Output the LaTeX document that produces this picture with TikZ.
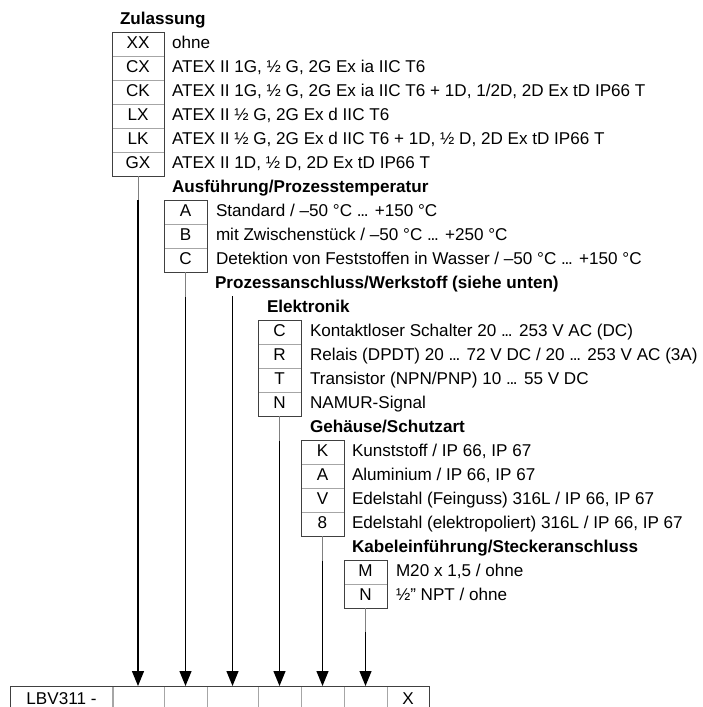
\documentclass[tikz,border=0pt]{standalone}
\usepackage{fontspec}
\setmainfont{Liberation Sans}
\usetikzlibrary{arrows.meta}
\newcommand\dotsx{.\kern-1.3pt.\kern-1.3pt.}
\begin{document}
\begin{tikzpicture}[x=1pt,y=-1pt,
  every node/.style={font=\fontsize{17.1}{20}\selectfont, inner sep=0pt, outer sep=0pt},
  cell/.style={draw=black!35, line width=0.8pt, minimum height=24pt, text height=11pt, text depth=2pt},
  bcell/.style={draw=black!35, line width=0.8pt, minimum height=26pt, text height=11pt, text depth=0pt},
  desc/.style={anchor=west, text height=11pt, text depth=2pt},
  title/.style={desc, font=\fontsize{17.1}{20}\selectfont\bfseries},
  outer/.style={draw=black!75, line width=0.9pt},
  conngray/.style={draw=black!50, line width=0.9pt},
  conn/.style={draw=black, line width=1.2pt, -{Triangle[width=12pt,length=15pt]}}
]
\useasboundingbox (0,0) rectangle (702,707);

% ---------- Zulassung
\node[title] (tz) at (120,20) {Zulassung};
\node[cell, minimum width=52pt] (z1) at (138,44) {XX};
\node[cell, minimum width=52pt] (z2) at (138,68) {CX};
\node[cell, minimum width=52pt] (z3) at (138,92) {CK};
\node[cell, minimum width=52pt] (z4) at (138,116) {LX};
\node[cell, minimum width=52pt] (z5) at (138,140) {LK};
\node[cell, minimum width=52pt] (z6) at (138,164) {GX};
\draw[outer] (z1.north west) rectangle (z6.south east);
\node[desc] (dz1) at (172,44) {ohne};
\node[desc] (dz2) at (172,68) {ATEX II 1G, ½ G, 2G Ex ia IIC T6};
\node[desc] (dz3) at (172,92) {ATEX II 1G, ½ G, 2G Ex ia IIC T6 + 1D, 1/2D, 2D Ex tD IP66 T};
\node[desc] (dz4) at (172,116) {ATEX II ½ G, 2G Ex d IIC T6};
\node[desc] (dz5) at (172,140) {ATEX II ½ G, 2G Ex d IIC T6 + 1D, ½ D, 2D Ex tD IP66 T};
\node[desc] (dz6) at (172,164) {ATEX II 1D, ½ D, 2D Ex tD IP66 T};

% ---------- Ausfuehrung
\node[title] (ta) at (172,188) {Ausführung/Prozesstemperatur};
\node[cell, minimum width=43pt] (a1) at (185.5,212) {A};
\node[cell, minimum width=43pt] (a2) at (185.5,236) {B};
\node[cell, minimum width=43pt] (a3) at (185.5,260) {C};
\draw[outer] (a1.north west) rectangle (a3.south east);
\node[desc] (da1) at (216,212) {Standard / –50 °C \dotsx{} +150 °C};
\node[desc] (da2) at (216,236) {mit Zwischenstück / –50 °C \dotsx{} +250 °C};
\node[desc] (da3) at (216,260) {Detektion von Feststoffen in Wasser / –50 °C \dotsx{} +150 °C};

% ---------- Prozessanschluss
\node[title] (tp) at (215,284) {Prozessanschluss/Werkstoff (siehe unten)};

% ---------- Elektronik
\node[title] (te) at (267,308) {Elektronik};
\node[cell, minimum width=43pt] (e1) at (279.5,332) {C};
\node[cell, minimum width=43pt] (e2) at (279.5,356) {R};
\node[cell, minimum width=43pt] (e3) at (279.5,380) {T};
\node[cell, minimum width=43pt] (e4) at (279.5,404) {N};
\draw[outer] (e1.north west) rectangle (e4.south east);
\node[desc] (de1) at (310,332) {Kontaktloser Schalter 20 \dotsx{} 253 V AC (DC)};
\node[desc] (de2) at (310,356) {Relais (DPDT) 20 \dotsx{} 72 V DC / 20 \dotsx{} 253 V AC (3A)};
\node[desc] (de3) at (310,380) {Transistor (NPN/PNP) 10 \dotsx{} 55 V DC};
\node[desc] (de4) at (310,404) {NAMUR-Signal};

% ---------- Gehaeuse
\node[title] (tg) at (310,428) {Gehäuse/Schutzart};
\node[cell, minimum width=43pt] (g1) at (322.5,452) {K};
\node[cell, minimum width=43pt] (g2) at (322.5,476) {A};
\node[cell, minimum width=43pt] (g3) at (322.5,500) {V};
\node[cell, minimum width=43pt] (g4) at (322.5,524) {8};
\draw[outer] (g1.north west) rectangle (g4.south east);
\node[desc] (dg1) at (352,452) {Kunststoff / IP 66, IP 67};
\node[desc] (dg2) at (352,476) {Aluminium / IP 66, IP 67};
\node[desc] (dg3) at (352,500) {Edelstahl (Feinguss) 316L / IP 66, IP 67};
\node[desc] (dg4) at (352,524) {Edelstahl (elektropoliert) 316L / IP 66, IP 67};

% ---------- Kabeleinfuehrung
\node[title] (tk) at (352,548) {Kabeleinführung/Steckeranschluss};
\node[cell, minimum width=43pt] (k1) at (365.5,572) {M};
\node[cell, minimum width=43pt] (k2) at (365.5,596) {N};
\draw[outer] (k1.north west) rectangle (k2.south east);
\node[desc] (dk1) at (396,572) {M20 x 1,5 / ohne};
\node[desc] (dk2) at (396,596) {½\symbol{34} NPT / ohne};

% ---------- bottom order code
\node[bcell, minimum width=103pt] (b0) at (61.5,699) {LBV311 -};
\node[bcell, minimum width=52pt] (b1) at (138,699) {};
\node[bcell, minimum width=43pt] (b2) at (185.5,699) {};
\node[bcell, minimum width=51pt] (b3) at (232.5,699) {};
\node[bcell, minimum width=43pt] (b4) at (279.5,699) {};
\node[bcell, minimum width=43pt] (b5) at (322.5,699) {};
\node[bcell, minimum width=43pt] (b6) at (365.5,699) {};
\node[bcell, minimum width=42pt] (b7) at (408,699) {X};
\draw[outer] (b0.north west) rectangle (b7.south east);

% ---------- connectors
\coordinate (cz) at (138,200);
\coordinate (ca) at (185.5,297);
\coordinate (cp) at (232.5,296);
\coordinate (ce) at (279.5,441);
\coordinate (cg) at (322.5,561);
\coordinate (ck) at (365.5,632);
\draw[conngray] (z6.south) -- (cz);
\draw[conn] (cz) -- (b1.north);
\draw[conngray] (a3.south) -- (ca);
\draw[conn] (ca) -- (b2.north);
\draw[conn] (cp) -- (b3.north);
\draw[conngray] (e4.south) -- (ce);
\draw[conn] (ce) -- (b4.north);
\draw[conngray] (g4.south) -- (cg);
\draw[conn] (cg) -- (b5.north);
\draw[conngray] (k2.south) -- (ck);
\draw[conn] (ck) -- (b6.north);
\end{tikzpicture}
\end{document}
